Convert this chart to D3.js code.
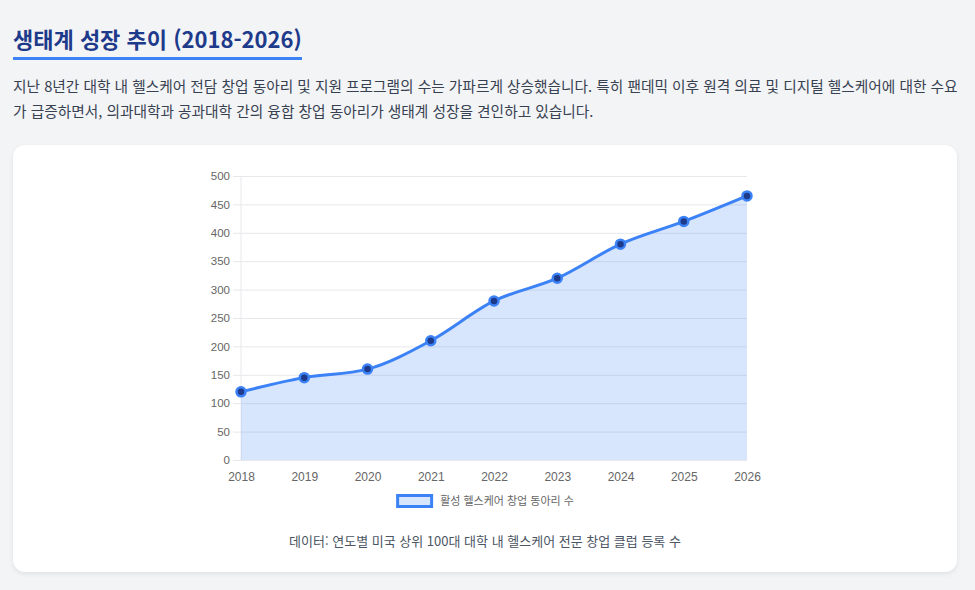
<!DOCTYPE html>
<html lang="ko">
<head>
<meta charset="utf-8">
<script src="https://cdn.jsdelivr.net/npm/d3@7"></script>
<style>
  html, body { margin: 0; padding: 0; }
  body {
    width: 975px; height: 590px; overflow: hidden;
    background: #f3f4f6;
    font-family: "Noto Sans CJK KR", "Noto Sans", sans-serif;
    position: relative;
  }
  h2 {
    position: absolute; left: 13px; top: 21px; margin: 0;
    font-size: 22px; font-weight: 700; color: #1e3a8a;
    line-height: 34px;
    border-bottom: 3px solid #3b82f6; padding-bottom: 2px;
  }
  p.desc {
    position: absolute; left: 13px; top: 73px; width: 955px; margin: 0;
    font-size: 14.7px; line-height: 25px; color: #374151;
  }
  .card {
    position: absolute; left: 13px; top: 145px; width: 944px; height: 427px;
    background: #fff; border-radius: 12px;
    box-shadow: 0 2px 5px rgba(0,0,0,0.08);
  }
  .card svg { position: absolute; left: 0; top: 0; }
</style>
</head>
<body>
<h2>생태계 성장 추이 (2018-2026)</h2>
<p class="desc">지난 8년간 대학 내 헬스케어 전담 창업 동아리 및 지원 프로그램의 수는 가파르게 상승했습니다. 특히 팬데믹 이후 원격 의료 및 디지털 헬스케어에 대한 수요<br>가 급증하면서, 의과대학과 공과대학 간의 융합 창업 동아리가 생태계 성장을 견인하고 있습니다.</p>
<div class="card" id="card"></div>
<script>
// 연도별 활성 동아리 수
var years = ["2018", "2019", "2020", "2021", "2022", "2023", "2024", "2025", "2026"];
var clubs = [120, 145, 160, 210, 280, 320, 380, 420, 465];
var yTicks = [0, 50, 100, 150, 200, 250, 300, 350, 400, 450, 500];
var seriesName = "활성 헬스케어 창업 동아리 수";
var caption = "데이터: 연도별 미국 상위 100대 대학 내 헬스케어 전문 창업 클럽 등록 수";

var W = 944, H = 427;
// card is at (13,145); plot area in card coords
var margin = {left: 228, top: 31, right: W - 734, bottom: H - 315};

var data = years.map(function (y, i) { return {year: y, value: clubs[i]}; });

var svg = d3.select("#card").append("svg")
  .attr("width", W).attr("height", H);

var g = svg.append("g")
  .attr("transform", "translate(" + margin.left + "," + margin.top + ")");

var width = W - margin.left - margin.right,
    height = H - margin.top - margin.bottom;

var x = d3.scalePoint().domain(years).range([0, width]);
var y = d3.scaleLinear().domain([0, 500]).range([height, 0]);

var tickFont = "'Liberation Sans', Arial, sans-serif";

// y axis: grid lines + labels
var yAxis = g.append("g")
  .call(d3.axisLeft(y).tickValues(yTicks).tickSize(-width - 8).tickPadding(3))
  .attr("transform", "translate(-8,0)");
yAxis.select(".domain").remove();
yAxis.selectAll(".tick line").attr("stroke", "#e7e8eb").attr("x1", 0).attr("x2", width + 8);
yAxis.selectAll(".tick text")
  .attr("fill", "#666").style("font-family", tickFont).style("font-size", "11.5px");

// left border line
g.append("line")
  .attr("x1", 0).attr("x2", 0).attr("y1", 0).attr("y2", height)
  .attr("stroke", "#e7e8eb");

// x axis labels
var xAxis = g.append("g")
  .attr("transform", "translate(0," + height + ")")
  .call(d3.axisBottom(x).tickSize(0).tickPadding(12));
xAxis.select(".domain").remove();
xAxis.selectAll(".tick text")
  .attr("fill", "#666").style("font-family", tickFont).style("font-size", "12px");

// area
var area = d3.area()
  .x(function (d) { return x(d.year); })
  .y0(height)
  .y1(function (d) { return y(d.value); })
  .curve(d3.curveMonotoneX);

g.append("path").datum(data)
  .attr("d", area)
  .attr("fill", "rgba(59,130,246,0.2)");

var line = d3.line()
  .x(function (d) { return x(d.year); })
  .y(function (d) { return y(d.value); })
  .curve(d3.curveMonotoneX);

g.append("path").datum(data)
  .attr("d", line)
  .attr("fill", "none")
  .attr("stroke", "#3b82f6")
  .attr("stroke-width", 3);

g.selectAll(".pt")
  .data(data)
  .enter().append("circle")
  .attr("class", "pt")
  .attr("cx", function (d) { return x(d.year); })
  .attr("cy", function (d) { return y(d.value); })
  .attr("r", 4.5)
  .attr("fill", "#1e3a8a")
  .attr("stroke", "#3b82f6")
  .attr("stroke-width", 2.5);

// legend (centred on the card, like the caption)
var legend = svg.append("g")
  .attr("transform", "translate(" + (W / 2) + "," + 356 + ")");
var legText = legend.append("text")
  .attr("x", 0).attr("y", 0)
  .attr("dy", "0.35em")
  .attr("fill", "#666")
  .style("font-family", "'Noto Sans CJK KR', sans-serif")
  .style("font-size", "11px")
  .text(seriesName);
var tw = legText.node().getComputedTextLength();
var boxW = 37, gap = 7, total = boxW + gap + tw;
legend.append("rect")
  .attr("x", -total / 2 + 1.5).attr("y", -5.5)
  .attr("width", boxW - 3).attr("height", 11)
  .attr("fill", "rgba(59,130,246,0.2)")
  .attr("stroke", "#3b82f6").attr("stroke-width", 3);
legText.attr("x", -total / 2 + boxW + gap);

// caption
svg.append("text")
  .attr("x", W / 2).attr("y", 396)
  .attr("dy", "0.35em")
  .attr("text-anchor", "middle")
  .attr("fill", "#4b5563")
  .style("font-family", "'Noto Sans CJK KR', sans-serif")
  .style("font-size", "13px")
  .text(caption);
</script>
</body>
</html>
